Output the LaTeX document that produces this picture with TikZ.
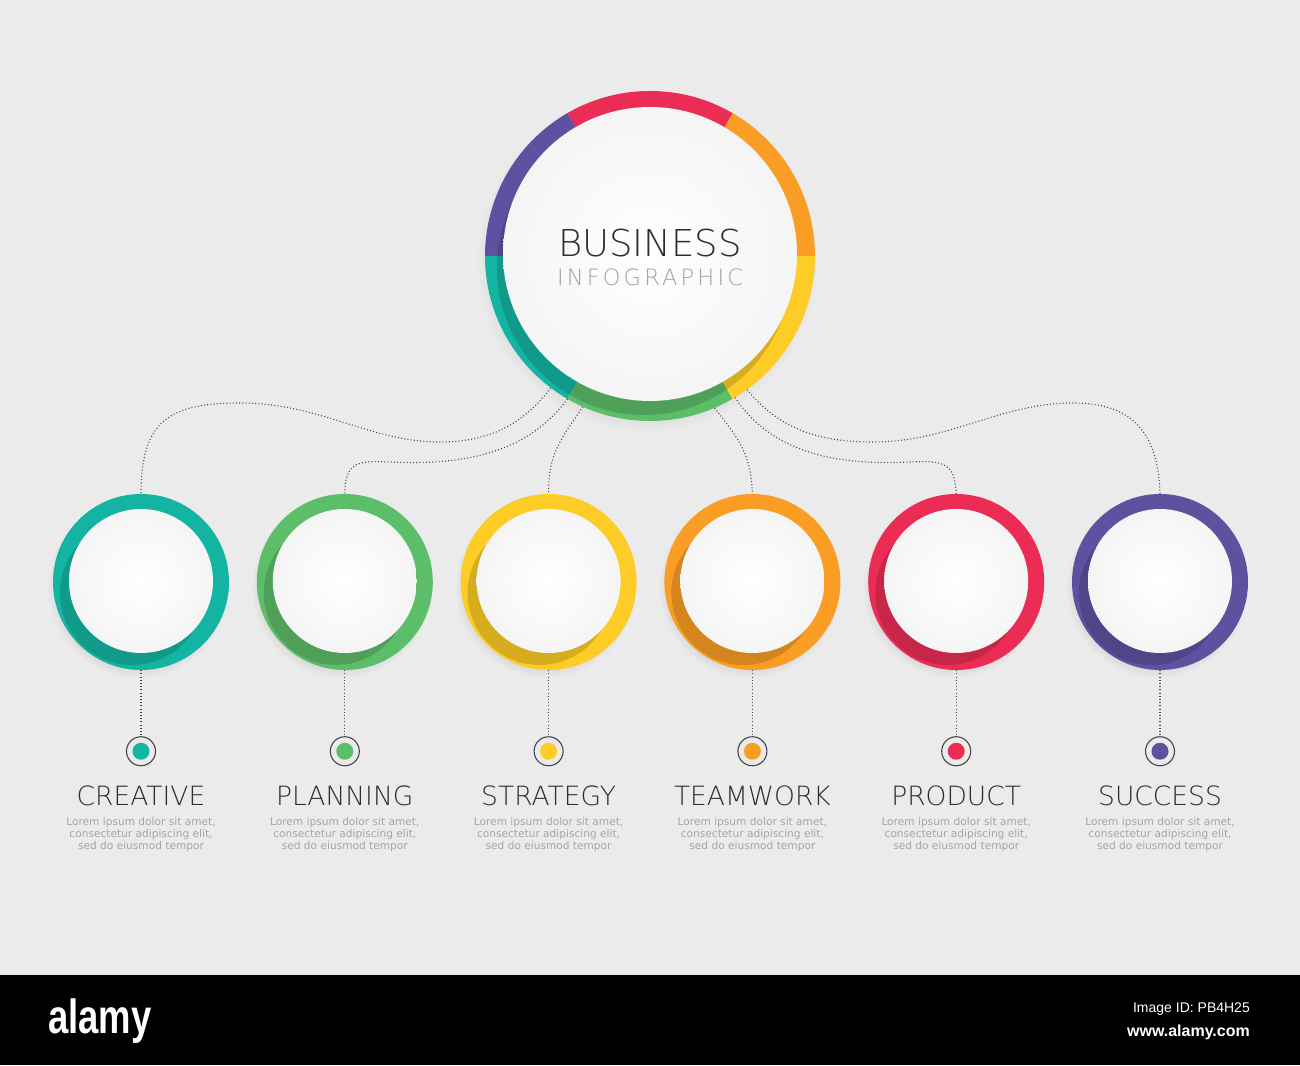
\documentclass[tikz,border=0pt]{standalone}
\usepackage{fontspec}
\usepackage{tikz}
\usetikzlibrary{positioning}
\usetikzlibrary{shadows}
\newfontfamily\thinfont{DejaVu Sans ExtraLight}
\newfontfamily\widethin[LetterSpace=14]{DejaVu Sans ExtraLight}
\newfontfamily\bodyfont{DejaVu Sans}
\newfontfamily\barfont{Liberation Sans}
\definecolor{bgcol}{RGB}{235,235,235}
\definecolor{tealc}{RGB}{20,180,163}
\definecolor{greenc}{RGB}{93,190,106}
\definecolor{yellowc}{RGB}{253,204,38}
\definecolor{orangec}{RGB}{250,157,36}
\definecolor{redc}{RGB}{235,45,85}
\definecolor{purplec}{RGB}{93,82,160}
\definecolor{linegray}{RGB}{70,70,70}
\definecolor{headgray}{RGB}{45,45,45}
\definecolor{subgray}{RGB}{160,160,160}
\definecolor{loremgray}{RGB}{165,165,165}
\tikzstyle{link} = [draw=linegray, line width=1.1pt, dash pattern=on 1pt off 2.2pt]
\tikzstyle{headline} = [inner sep=0pt, text height=27pt, text depth=0pt,
    font=\thinfont\fontsize{37}{40}\selectfont, text=headgray]
\tikzstyle{subline} = [inner sep=0pt, text height=16.5pt, text depth=0pt,
    font=\widethin\fontsize{22.5}{26}\selectfont, text=subgray]
\tikzstyle{title} = [inner sep=0pt, text height=19pt, text depth=0pt,
    font=\thinfont\fontsize{26.5}{30}\selectfont, text=headgray]
\tikzstyle{lorem} = [inner sep=0pt, align=center,
    font=\bodyfont\fontsize{10.6}{12}\selectfont, text=loremgray]
\tikzset{
  hubring/.style={circle, minimum size=330pt, inner sep=0pt,
    circular drop shadow={shadow xshift=-3pt, shadow yshift=-5pt, shadow scale=1.03, opacity=0.22},
    path picture={
      \foreach \a/\c in {0/orangec,60/redc,120/purplec,180/tealc,240/greenc,300/yellowc}
        \fill[\c] (path picture bounding box.center) -- ++(\a:200) arc (\a:\a+60:200) -- cycle;
      \fill[black, opacity=0.15] ([shift={(-6,-12)}]path picture bounding box.center) circle (147);
      \shade[inner color=white, outer color=black!4] ([yshift=2pt]path picture bounding box.center) circle (147);
    }},
  stepring/.style={circle, minimum size=176pt, inner sep=0pt, fill=#1,
    circular drop shadow={shadow xshift=-3pt, shadow yshift=-5pt, shadow scale=1.03, opacity=0.22},
    path picture={
      \fill[black, opacity=0.15] ([shift={(-9,-11)}]path picture bounding box.center) circle (72);
      \shade[inner color=white, outer color=black!4] ([yshift=1pt]path picture bounding box.center) circle (72);
    }},
  dotmark/.style={circle, draw=linegray, line width=1.1pt, minimum size=29pt, inner sep=0pt,
    path picture={\fill[#1] (path picture bounding box.center) circle (8.5);}}
}

\begin{document}
\begin{tikzpicture}[x=1pt, y=1pt]
\useasboundingbox (0,0) rectangle (1300,1065);
\fill[bgcol] (0,90) rectangle (1300,1065);
\fill[black] (0,0) rectangle (1300,90);

% centre circle
\node (hub) [hubring] at (650,809) {};
\node (hub-title) [headline] at ([yshift=13pt]hub.center) {BUSINESS};
\node (hub-sub) [subline, below=12pt of hub-title] {INFOGRAPHIC};

% the six steps
\node (creative) [stepring=tealc] at (141,483) {};
\node (planning) [stepring=greenc, right=27.4pt of creative] {};
\node (strategy) [stepring=yellowc, right=27.4pt of planning] {};
\node (teamwork) [stepring=orangec, right=27.4pt of strategy] {};
\node (product) [stepring=redc, right=27.4pt of teamwork] {};
\node (success) [stepring=purplec, right=27.4pt of product] {};

\foreach \s/\c/\t in {creative/tealc/CREATIVE, planning/greenc/PLANNING,
    strategy/yellowc/STRATEGY, teamwork/orangec/TEAMWORK,
    product/redc/PRODUCT, success/purplec/SUCCESS} {
  \node (\s-dot) [dotmark=\c, below=66pt of \s] {};
  \node (\s-title) [title, below=20pt of \s-dot] {\t};
  \node (\s-text) [lorem, below=12pt of \s-title] {
      Lorem ipsum dolor sit amet,\\
      consectetur adipiscing elit,\\
      sed do eiusmod tempor};
  \draw [link] (\s) -- (\s-dot);
}

% dotted links from the centre circle
\draw [link] (hub.233) .. controls (530,650) and (500,623) .. (440,623)
    .. controls (370,623) and (320,662) .. (240,662)
    .. controls (170,662) and (141,645) .. (creative.north);
\draw [link] (hub.240) .. controls (530,615) and (470,599) .. (390,603)
    .. controls (360,604) and (345,605) .. (planning.north);
\draw [link] (hub.246) .. controls (560,625) and (548,610) .. (strategy.north);
\draw [link] (hub.293) .. controls (740,625) and (751,610) .. (teamwork.north);
\draw [link] (hub.301) .. controls (770,615) and (830,599) .. (910,603)
    .. controls (940,604) and (955,605) .. (product.north);
\draw [link] (hub.306) .. controls (780,635) and (820,623) .. (873,623)
    .. controls (950,623) and (1000,662) .. (1073,662)
    .. controls (1130,662) and (1158,635) .. (success.north);

% footer
\node (logo) [anchor=base, text=white, inner sep=0pt] at (100,32)
    {\barfont\bfseries\fontsize{48}{48}\selectfont\scalebox{0.76}[1]{alamy}};
\node (image-id) [anchor=base east, text=white, inner sep=0pt] at (1250,53)
    {\barfont\fontsize{14}{16}\selectfont Image ID: PB4H25};
\node (site) [anchor=base east, text=white, inner sep=0pt] at (1250,29)
    {\barfont\bfseries\fontsize{16}{18}\selectfont www.alamy.com};
\end{tikzpicture}
\end{document}
